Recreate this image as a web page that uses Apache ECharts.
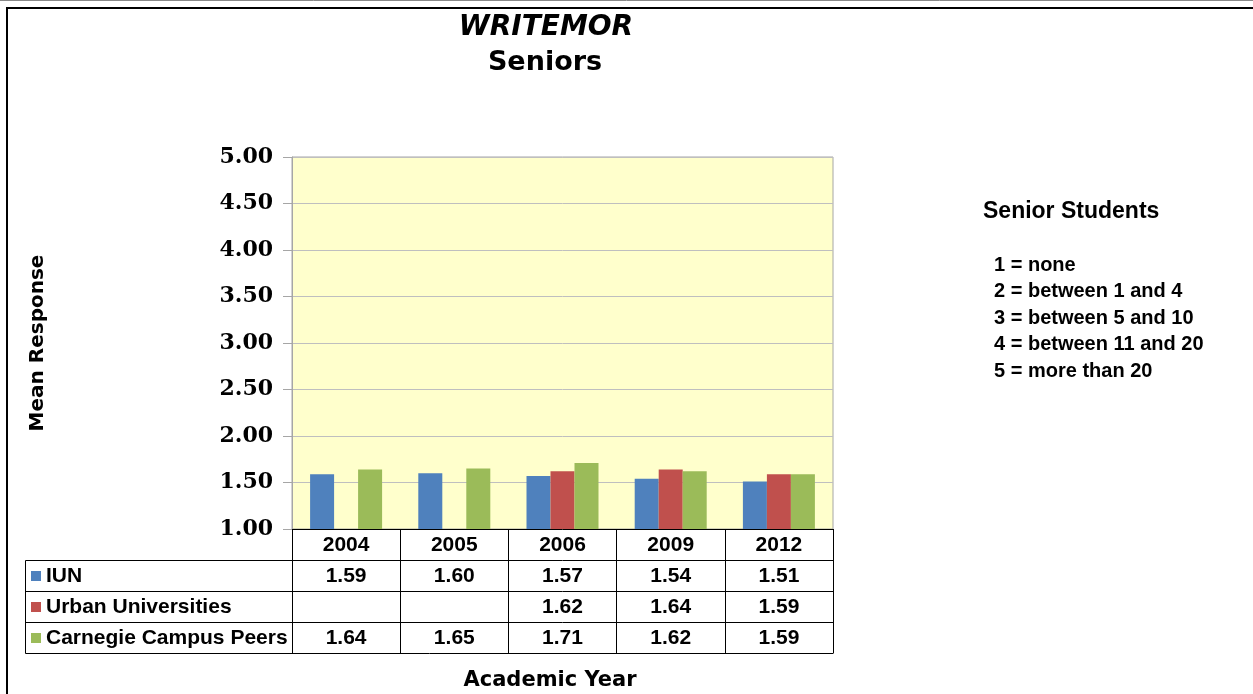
<!DOCTYPE html>
<html>
<head>
<meta charset="utf-8">
<script src="https://cdn.jsdelivr.net/npm/echarts@6/dist/echarts.min.js"></script>
<style>
  html, body { margin: 0; padding: 0; background: #fff; }
  #main { width: 1253px; height: 694px; }
</style>
</head>
<body>
<div id="main"></div>
<script>
var years = ['2004', '2005', '2006', '2009', '2012'];
var iun = [1.59, 1.60, 1.57, 1.54, 1.51];
var urban = [null, null, 1.62, 1.64, 1.59];
var carnegie = [1.64, 1.65, 1.71, 1.62, 1.59];
var seriesNames = ['IUN', 'Urban Universities', 'Carnegie Campus Peers'];
var seriesColors = ['#4F81BD', '#C0504D', '#9BBB59'];
var yTicks = [1, 5, 0.5];
var keyLines = ['1 = none', '2 = between 1 and 4', '3 = between 5 and 10', '4 = between 11 and 20', '5 = more than 20'];

var rows = [iun, urban, carnegie];
var tableFont = 'Liberation Sans, Arial, sans-serif';
var rowH = 31;

// one x axis per table row, ticks drawn as the cell walls
function tableAxis(idx, rowData) {
  return {
    type: 'category',
    data: years,
    position: 'bottom',
    offset: idx * rowH,
    gridIndex: 0,
    axisLine: { show: true, lineStyle: { color: '#000', width: 1 } },
    axisTick: { show: true, length: rowH, lineStyle: { color: '#000', width: 1 } },
    axisLabel: {
      interval: 0,
      margin: 6,
      color: '#000',
      fontFamily: tableFont,
      fontWeight: 'bold',
      fontSize: 21,
      lineHeight: 21,
      formatter: function(v, i) {
        if (!rowData) return v;
        var d = rowData[i];
        return d == null ? '' : d.toFixed(2);
      }
    },
    splitLine: { show: false }
  };
}

var graphics = [];
// outer frame
graphics.push({ type: 'line', shape: { x1: 0, y1: 0.5, x2: 1253, y2: 0.5 }, style: { stroke: '#888', lineWidth: 1 } });
graphics.push({ type: 'line', shape: { x1: 6, y1: 8, x2: 1253, y2: 8 }, style: { stroke: '#000', lineWidth: 2 } });
graphics.push({ type: 'line', shape: { x1: 7, y1: 7, x2: 7, y2: 694 }, style: { stroke: '#000', lineWidth: 2 } });

// table, left column
var tLeft = 25.5, tTop = 560.5, tMid = 292.5, tRight = 833.5;
graphics.push({ type: 'line', shape: { x1: tLeft, y1: tTop, x2: tLeft, y2: tTop + 3 * rowH }, style: { stroke: '#000', lineWidth: 1 } });
for (var r = 0; r <= 3; r++) {
  graphics.push({ type: 'line', shape: { x1: tLeft, y1: tTop + r * rowH, x2: r == 3 ? tRight : tMid, y2: tTop + r * rowH }, style: { stroke: '#000', lineWidth: 1 } });
}
seriesNames.forEach(function(name, i) {
  var cy = tTop + i * rowH + rowH / 2;
  graphics.push({ type: 'rect', shape: { x: 31, y: cy - 5, width: 10, height: 10 }, style: { fill: seriesColors[i] } });
  graphics.push({ type: 'text', x: 46, y: cy, style: { text: name, fill: '#000', font: 'bold 21px ' + tableFont, textVerticalAlign: 'middle', verticalAlign: 'middle' } });
});

// axis title under table
graphics.push({ type: 'text', x: 550, y: 681, style: { text: 'Academic Year', fill: '#000', font: 'bold 21px DejaVu Sans', textAlign: 'center', align: 'center', textVerticalAlign: 'middle', verticalAlign: 'middle' } });

// key on the right
graphics.push({ type: 'text', x: 983, y: 212, style: { text: 'Senior Students', fill: '#000', font: 'bold 23px ' + tableFont, textVerticalAlign: 'middle', verticalAlign: 'middle' } });
keyLines.forEach(function(t, i) {
  graphics.push({ type: 'text', x: 994, y: 265 + i * 26.5, style: { text: t, fill: '#000', font: 'bold 20px ' + tableFont, textVerticalAlign: 'middle', verticalAlign: 'middle' } });
});

var chart = echarts.init(document.getElementById('main'));
chart.setOption({
  backgroundColor: '#fff',
  animation: false,
  title: [{
    text: 'WRITEMOR',
    left: 541,
    top: 9,
    textAlign: 'center',
    textStyle: { fontFamily: 'DejaVu Sans', fontWeight: 'bold', fontStyle: 'italic', fontSize: 28, color: '#000' }
  }, {
    text: 'Seniors',
    left: 540,
    top: 44,
    textAlign: 'center',
    textStyle: { fontFamily: 'DejaVu Sans', fontWeight: 'bold', fontSize: 27, color: '#000' }
  }],
  grid: {
    left: 292,
    right: 420,
    top: 157,
    bottom: 165,
    show: true,
    backgroundColor: '#FFFFCC',
    borderColor: '#A6A6A6',
    borderWidth: 1
  },
  xAxis: [
    tableAxis(0, null),
    tableAxis(1, iun),
    tableAxis(2, urban),
    tableAxis(3, carnegie)
  ],
  yAxis: {
    type: 'value',
    min: yTicks[0],
    max: yTicks[1],
    interval: yTicks[2],
    name: 'Mean Response',
    nameLocation: 'middle',
    nameRotate: 90,
    nameGap: 244,
    nameTextStyle: { fontFamily: 'DejaVu Sans', fontWeight: 'bold', fontSize: 20, color: '#000' },
    axisLine: { show: true, lineStyle: { color: '#A6A6A6' } },
    axisTick: { show: true, length: 9, lineStyle: { color: '#A6A6A6' } },
    axisLabel: {
      margin: 19,
      color: '#000',
      fontFamily: 'DejaVu Serif',
      fontWeight: 'bold',
      fontSize: 22,
      verticalAlign: 'middle',
      padding: [8, 0, 0, 0],
      formatter: function(v) { return v.toFixed(2); }
    },
    splitLine: { show: true, lineStyle: { color: '#BFBFBF', width: 1 } }
  },
  series: [{
    type: 'bar',
    name: seriesNames[0],
    data: iun,
    barWidth: 24,
    barGap: '0%',
    itemStyle: { color: seriesColors[0] }
  }, {
    type: 'bar',
    name: seriesNames[1],
    data: urban,
    barWidth: 24,
    barGap: '0%',
    itemStyle: { color: seriesColors[1] }
  }, {
    type: 'bar',
    name: seriesNames[2],
    data: carnegie,
    barWidth: 24,
    barGap: '0%',
    itemStyle: { color: seriesColors[2] }
  }],
  graphic: graphics
});
</script>
</body>
</html>
